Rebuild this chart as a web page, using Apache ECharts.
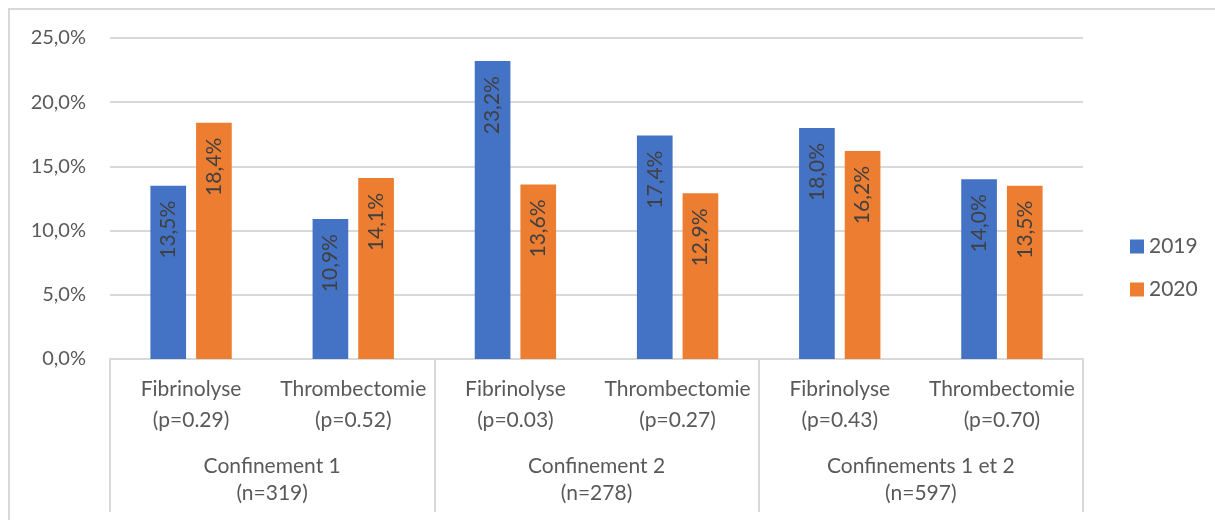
<!DOCTYPE html>
<html><head><meta charset="utf-8">
<script src="https://cdn.jsdelivr.net/npm/echarts@6/dist/echarts.min.js"></script>
<style>html,body{margin:0;padding:0;background:#fff}#c{width:1215px;height:520px}</style>
</head><body><div id="c"></div>
<script>
const treatments = ['Fibrinolyse','Thrombectomie','Fibrinolyse','Thrombectomie','Fibrinolyse','Thrombectomie'];
const pValues = ['0.29','0.52','0.03','0.27','0.43','0.70'];
const groups = ['Confinement 1','Confinement 2','Confinements 1 et 2'];
const groupN = ['319','278','597'];
const values2019 = [13.5, 10.9, 23.2, 17.4, 18.0, 14.0];
const values2020 = [18.4, 14.1, 13.6, 12.9, 16.2, 13.5];
const seriesNames = ['2019','2020'];
const yTicks = [0, 5, 10, 15, 20, 25];

const categories = treatments.map((t,i)=> t + '\n(p=' + pValues[i] + ')');
const groupLabels = groups.map((g,i)=> g + '\n(n=' + groupN[i] + ')');
const fmt = v => v.toFixed(1).replace('.', ',') + '%';
const FONT = 'Lato, "Liberation Sans", sans-serif';

const chart = echarts.init(document.getElementById('c'));
const labelCfg = {
  show: true, position: 'insideTop', rotate: 90, align: 'right', verticalAlign: 'middle',
  distance: 15, color: '#404040', fontSize: 21, fontFamily: FONT,
  formatter: p => fmt(p.value)
};
chart.setOption({
  animation: false,
  textStyle: { fontFamily: FONT },
  graphic: [{ type: 'rect', shape: { x: 9, y: 9, width: 1220, height: 530 },
    style: { fill: 'none', stroke: '#d9d9d9', lineWidth: 2 }, silent: true }],
  grid: { left: 110, right: 132, top: 38, bottom: 161 },
  legend: {
    orient: 'vertical', left: 1125, top: 231, itemWidth: 14, itemHeight: 14, itemGap: 22,
    icon: 'rect', data: seriesNames,
    textStyle: { fontSize: 21, color: '#595959', fontFamily: FONT }
  },
  xAxis: [{
    type: 'category', data: categories, position: 'bottom',
    axisLine: { show: true, lineStyle: { color: '#d9d9d9', width: 2 } },
    axisTick: { show: false },
    axisLabel: { interval: 0, margin: 15, fontSize: 21, lineHeight: 31, color: '#595959', fontFamily: FONT }
  }, {
    type: 'category', data: groupLabels, position: 'bottom',
    axisLine: { show: false },
    axisTick: { show: true, length: 153, lineStyle: { color: '#d9d9d9', width: 2 } },
    axisLabel: { interval: 0, margin: 94, fontSize: 21, lineHeight: 27, color: '#595959', fontFamily: FONT }
  }],
  yAxis: {
    type: 'value', min: 0, max: 25, interval: 5,
    axisLine: { show: false }, axisTick: { show: false },
    splitLine: { lineStyle: { color: '#d9d9d9', width: 2 } },
    axisLabel: { formatter: v => fmt(v), fontSize: 20, color: '#595959', margin: 24, fontFamily: FONT }
  },
  series: [{
    name: seriesNames[0], type: 'bar', data: values2019, xAxisIndex: 0,
    barWidth: '22%', barGap: '28%', itemStyle: { color: '#4472C4' }, label: labelCfg
  }, {
    name: seriesNames[1], type: 'bar', data: values2020, xAxisIndex: 0,
    barWidth: '22%', barGap: '28%', itemStyle: { color: '#ED7D31' }, label: labelCfg
  }]
});
</script></body></html>
